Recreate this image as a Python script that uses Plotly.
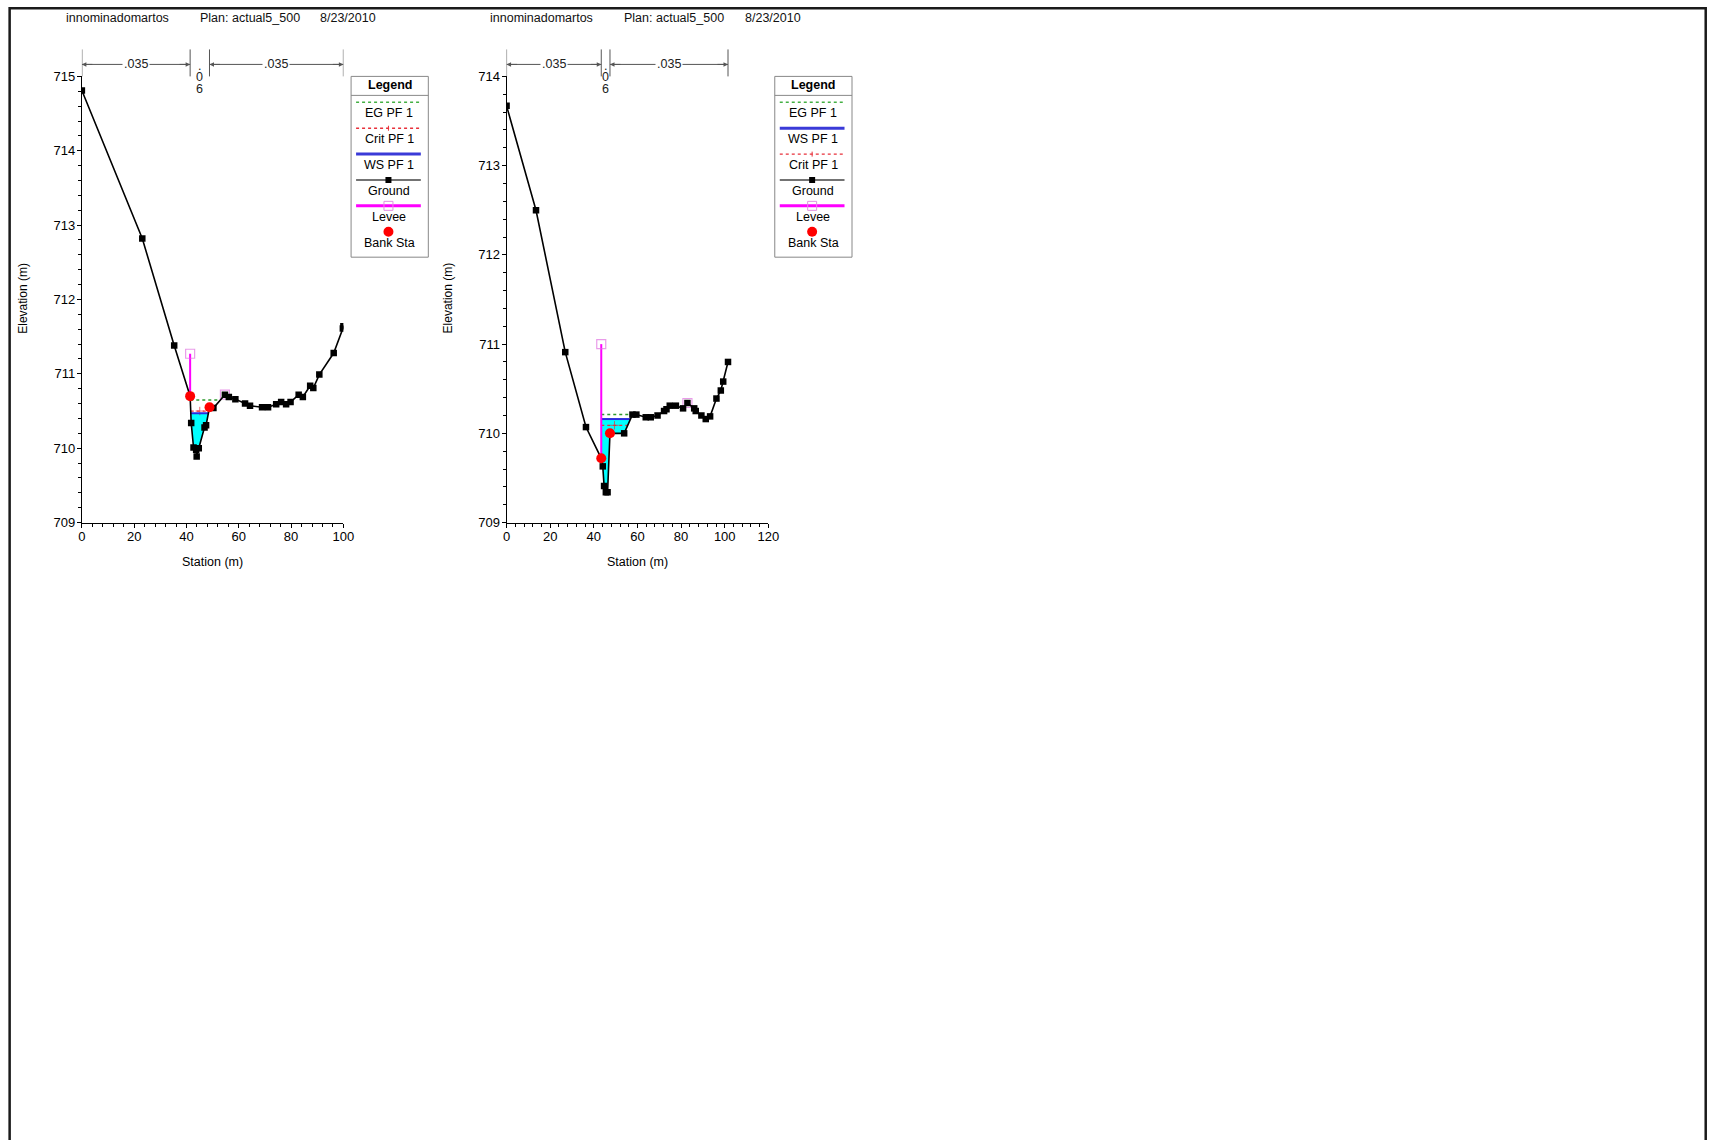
import numpy as np
import plotly.graph_objects as go

W, H = 1718, 1140
# measured rendering calibration (target pixel -> page pixel)
SX, SY = 0.992, 0.988
DX, DY = 4.4, 6.6
FONT = "Liberation Sans, Arial, sans-serif"

# ---------------- data: left cross section ----------------
L_sta = [0, 23.1, 35.3, 41.4, 41.8, 42.7, 43.7, 43.9, 44.7, 46.9, 47.5, 48.8, 50.3, 54.7,
         56.2, 58.7, 62.4, 64.3, 68.9, 71.2, 74.3, 76.2, 78.1, 79.8, 82.9, 84.5, 87.3,
         88.5, 90.8, 96.3, 99.8, 100.0]
L_elev = [714.81, 712.82, 711.38, 710.70, 710.34, 710.01, 709.98, 709.89, 710.00, 710.28,
          710.31, 710.55, 710.54, 710.72, 710.69, 710.66, 710.60, 710.57, 710.55, 710.55,
          710.59, 710.62, 710.59, 710.62, 710.72, 710.69, 710.84, 710.81, 710.99, 711.28,
          711.61, 711.64]
L_levee_sta = [41.4, 54.7]
L_levee_elev = [711.27, 710.72]
L_bank_sta = [41.4, 48.8]
L_ws, L_eg, L_crit = 710.47, 710.65, 710.50
L_n_vals = [".035", ".06", ".035"]
L_n_breaks = [0, 41.4, 48.8, 100.0]
L_xrange = [0, 100]
L_yrange = [709, 715]
L_legend = ["EG PF 1", "Crit PF 1", "WS PF 1", "Ground", "Levee", "Bank Sta"]

# ---------------- data: right cross section ----------------
R_sta = [0, 13.5, 26.9, 36.4, 43.4, 44.1, 44.7, 45.5, 46.3, 47.4, 53.9, 57.7, 59.5, 63.8,
         66.1, 69.2, 72.2, 73.3, 74.8, 77.6, 80.9, 82.9, 86.0, 86.7, 89.3, 91.3, 93.3,
         96.2, 98.2, 99.3, 101.5]
R_elev = [713.67, 712.50, 710.91, 710.07, 709.72, 709.63, 709.41, 709.34, 709.34, 710.00,
          710.00, 710.21, 710.21, 710.18, 710.18, 710.20, 710.25, 710.27, 710.31, 710.31,
          710.28, 710.34, 710.28, 710.25, 710.20, 710.16, 710.19, 710.39, 710.48, 710.58,
          710.80]
R_levee_sta = [43.4, 82.9]
R_levee_elev = [711.00, 710.34]
R_bank_sta = [43.4, 47.4]
R_ws, R_eg, R_crit = 710.16, 710.21, 710.09
R_n_vals = [".035", ".06", ".035"]
R_n_breaks = [0, 43.4, 47.4, 101.5]
R_xrange = [0, 120]
R_yrange = [709, 714]
R_legend = ["EG PF 1", "WS PF 1", "Crit PF 1", "Ground", "Levee", "Bank Sta"]

HEADER = ["innominadomartos", "Plan: actual5_500", "8/23/2010"]

C_EG = "#2e9a2e"
C_CRIT = "#e8303a"
C_WS = "#2a2ae0"
C_GROUND = "#000000"
C_LEVEE = "#ff00ff"
C_BANK = "#ff0000"
C_WATER = "#00ffff"


def ex(t):
    return t / SX - DX


def ey(t):
    return t / SY - DY


def PX(px):
    return ex(px) / W


def PY(py):
    return 1 - ey(py) / H


def crossing(x0, y0, x1, y1, lev):
    return x0 + (lev - y0) * (x1 - x0) / (y1 - y0)


def extent(sta, elev, lev, lim):
    i0 = int(np.argmin(elev))
    j = i0
    while True:
        xa, ya = sta[j - 1], elev[j - 1]
        if ya >= lev:
            xl = crossing(xa, ya, sta[j], elev[j], lev)
            break
        if xa <= lim:
            xl = lim
            break
        j -= 1
    xl = max(xl, lim)
    k = i0
    while True:
        xb, yb = sta[k + 1], elev[k + 1]
        if yb >= lev:
            xr = crossing(sta[k], elev[k], xb, yb, lev)
            break
        k += 1
    return xl, xr


def txt(x, y, text, size=12.5, color="black", xref="paper", **kw):
    d = dict(x=x, y=y, xref=xref, yref="paper", text=text, showarrow=False,
             xanchor=kw.pop("xanchor", "center"), yanchor=kw.pop("yanchor", "middle"),
             font=dict(family=FONT, size=size, color=color))
    d.update(kw)
    return d


fig = go.Figure()
shapes = []
annos = []

PANELS = [
    dict(sta=L_sta, elev=L_elev, lev_sta=L_levee_sta, lev_elev=L_levee_elev, bank=L_bank_sta,
         ws=L_ws, eg=L_eg, crit=L_crit, nv=L_n_vals, nb=L_n_breaks, xr=L_xrange, yr=L_yrange,
         legend=L_legend, x0=82.3, x1=344.0, leg_x=351.7, head_x=[64, 199, 319],
         ytitle_x=24, xtitle_x=213),
    dict(sta=R_sta, elev=R_elev, lev_sta=R_levee_sta, lev_elev=R_levee_elev, bank=R_bank_sta,
         ws=R_ws, eg=R_eg, crit=R_crit, nv=R_n_vals, nb=R_n_breaks, xr=R_xrange, yr=R_yrange,
         legend=R_legend, x0=507.3, x1=769.3, leg_x=775.7, head_x=[489, 623, 744],
         ytitle_x=449, xtitle_x=638),
]
TOP, BOT = 76.0, 522.7

for p_i, P in enumerate(PANELS):
    xa = "x" if p_i == 0 else "x2"
    ya = "y" if p_i == 0 else "y2"
    sta = np.array(P["sta"], float)
    elev = np.array(P["elev"], float)
    lim = P["lev_sta"][0]

    xl, xr = extent(sta, elev, P["ws"], lim)
    inner = (sta > xl) & (sta < xr)
    fx = [xl, xl] + list(sta[inner]) + [xr, xl]
    fy = [P["ws"], float(np.interp(xl, sta, elev))] + list(elev[inner]) + [P["ws"], P["ws"]]
    fig.add_trace(go.Scatter(x=fx, y=fy, xaxis=xa, yaxis=ya, mode="lines", fill="toself",
                             fillcolor=C_WATER, line=dict(width=0), hoverinfo="skip",
                             showlegend=False))

    el, er = extent(sta, elev, P["eg"], lim)
    fig.add_trace(go.Scatter(x=[el, er], y=[P["eg"], P["eg"]], xaxis=xa, yaxis=ya, mode="lines",
                             line=dict(color=C_EG, width=1.5, dash="dot"), showlegend=False))
    cl, cr = extent(sta, elev, P["crit"], lim)
    fig.add_trace(go.Scatter(x=[cl, (cl + cr) / 2, cr], y=[P["crit"]] * 3, xaxis=xa, yaxis=ya,
                             mode="lines+markers",
                             line=dict(color=C_CRIT, width=1.3, dash="dot"),
                             marker=dict(symbol="cross-thin", size=[0, 6, 0],
                                         line=dict(color=C_CRIT, width=1)),
                             showlegend=False))
    fig.add_trace(go.Scatter(x=[xl, xr], y=[P["ws"], P["ws"]], xaxis=xa, yaxis=ya, mode="lines",
                             line=dict(color=C_WS, width=2), showlegend=False))

    for s, e in zip(P["lev_sta"], P["lev_elev"]):
        g = float(np.interp(s, sta, elev))
        fig.add_trace(go.Scatter(x=[s, s], y=[e, g], xaxis=xa, yaxis=ya, mode="lines+markers",
                                 line=dict(color=C_LEVEE, width=2),
                                 marker=dict(symbol="square-open", size=[9, 0], color="#e070e0",
                                             line=dict(width=1.2, color="#e070e0")),
                                 showlegend=False))

    fig.add_trace(go.Scatter(x=sta, y=elev, xaxis=xa, yaxis=ya, mode="lines+markers",
                             line=dict(color=C_GROUND, width=1.6),
                             marker=dict(symbol="square", size=6.5, color=C_GROUND),
                             showlegend=False))

    bs = np.array(P["bank"], float)
    fig.add_trace(go.Scatter(x=bs, y=np.interp(bs, sta, elev), xaxis=xa, yaxis=ya, mode="markers",
                             marker=dict(symbol="circle", size=10, color=C_BANK),
                             showlegend=False))

    dom_x = [PX(P["x0"]), PX(P["x1"])]
    dom_y = [PY(BOT), PY(TOP)]
    axis_common = dict(showline=True, linecolor="black", linewidth=1, ticks="outside",
                       ticklen=4, tickcolor="black", showgrid=False, zeroline=False,
                       tickfont=dict(family=FONT, size=13, color="black"), mirror=False)
    xkey = "xaxis" if p_i == 0 else "xaxis2"
    ykey = "yaxis" if p_i == 0 else "yaxis2"
    fig.update_layout(**{
        xkey: dict(domain=dom_x, range=P["xr"], dtick=20, anchor=ya, ticklabelstandoff=-2,
                   minor=dict(dtick=4, ticks="outside", ticklen=3, tickcolor="black"),
                   **axis_common),
        ykey: dict(domain=dom_y, range=P["yr"], dtick=1, anchor=xa, ticklabelstandoff=-1,
                   minor=dict(dtick=0.2, ticks="outside", ticklen=3, tickcolor="black"),
                   **axis_common),
    })

    annos.append(txt(PX(P["ytitle_x"]), PY(298), "Elevation (m)", size=12, textangle=-90))
    annos.append(txt(PX(P["xtitle_x"]), PY(562.5), "Station (m)", size=12.5))

    for hx, ht in zip(P["head_x"], HEADER):
        annos.append(txt(PX(hx), PY(17.7), ht, size=12.5, color="#111", xanchor="left"))

    pxm = (P["x1"] - P["x0"]) / (P["xr"][1] - P["xr"][0])
    nb = P["nb"]
    BC = "#555555"
    for b in nb:
        shapes.append(dict(type="line", xref=xa, yref="paper", x0=b, x1=b, y0=PY(76), y1=PY(49),
                           line=dict(color=BC, width=1)))
    for k in range(3):
        a, b = nb[k], nb[k + 1]
        wpx = (b - a) * pxm
        mid = (a + b) / 2
        if wpx > 40:
            shapes.append(dict(type="line", xref=xa, yref="paper", x0=a, x1=b, y0=PY(64), y1=PY(64),
                               line=dict(color=BC, width=1)))
            for end, off in ((a, 12), (b, -12)):
                annos.append(dict(x=end, y=PY(64), xref=xa, yref="paper", ax=off, ay=0,
                                  axref="pixel", ayref="pixel", text="", showarrow=True,
                                  arrowhead=2, arrowsize=0.9, arrowwidth=1, arrowcolor=BC))
            annos.append(txt(mid, PY(64), P["nv"][k], size=12.5, color="#222", xref=xa,
                             bgcolor="white", borderpad=1))
        else:
            chars = list(P["nv"][k])
            ys = [66, 77, 89]
            for c, yy in zip(chars, ys):
                annos.append(txt(mid, PY(yy), c, size=12.5, color="#222", xref=xa))

    lx0 = P["leg_x"]
    lx1 = lx0 + 77.3
    shapes.append(dict(type="rect", xref="paper", yref="paper", x0=PX(lx0), x1=PX(lx1),
                       y0=PY(76), y1=PY(257), line=dict(color="#888", width=1),
                       fillcolor="white"))
    shapes.append(dict(type="line", xref="paper", yref="paper", x0=PX(lx0), x1=PX(lx1),
                       y0=PY(95), y1=PY(95), line=dict(color="#888", width=1)))
    annos.append(txt(PX((lx0 + lx1) / 2), PY(84.5), "<b>Legend</b>", size=12.5))
    sx0, sx1 = lx0 + 5, lx1 - 7.5
    cx = (sx0 + sx1) / 2
    for r, name in enumerate(P["legend"]):
        ly = 102 + r * 25.9
        ty = ly + 11
        if name == "EG PF 1":
            shapes.append(dict(type="line", xref="paper", yref="paper", x0=PX(sx0), x1=PX(sx1),
                               y0=PY(ly), y1=PY(ly), line=dict(color="#44b044", width=1.5, dash="dot")))
        elif name == "Crit PF 1":
            shapes.append(dict(type="line", xref="paper", yref="paper", x0=PX(sx0), x1=PX(sx1),
                               y0=PY(ly), y1=PY(ly), line=dict(color=C_CRIT, width=1.3, dash="dot")))
            shapes.append(dict(type="line", xref="paper", yref="paper", x0=PX(cx), x1=PX(cx),
                               y0=PY(ly - 2.5), y1=PY(ly + 2.5), line=dict(color=C_CRIT, width=1)))
        elif name == "WS PF 1":
            shapes.append(dict(type="line", xref="paper", yref="paper", x0=PX(sx0), x1=PX(sx1),
                               y0=PY(ly), y1=PY(ly), line=dict(color="#3a3ad8", width=3)))
        elif name == "Ground":
            shapes.append(dict(type="line", xref="paper", yref="paper", x0=PX(sx0), x1=PX(sx1),
                               y0=PY(ly), y1=PY(ly), line=dict(color="#444", width=1.5)))
            shapes.append(dict(type="rect", xref="paper", yref="paper", x0=PX(cx - 3), x1=PX(cx + 3),
                               y0=PY(ly - 3), y1=PY(ly + 3), line=dict(width=0), fillcolor="black"))
        elif name == "Levee":
            shapes.append(dict(type="line", xref="paper", yref="paper", x0=PX(sx0), x1=PX(sx1),
                               y0=PY(ly), y1=PY(ly), line=dict(color=C_LEVEE, width=3)))
            shapes.append(dict(type="rect", xref="paper", yref="paper", x0=PX(cx - 4.5), x1=PX(cx + 4.5),
                               y0=PY(ly - 4.5), y1=PY(ly + 4.5),
                               line=dict(color="#e090e0", width=1), fillcolor="rgba(0,0,0,0)"))
        elif name == "Bank Sta":
            shapes.append(dict(type="circle", xref="paper", yref="paper", x0=PX(cx - 5), x1=PX(cx + 5),
                               y0=PY(ly - 5), y1=PY(ly + 5), line=dict(width=0), fillcolor=C_BANK))
        annos.append(txt(PX(cx + 1), PY(ty), name, size=12.5))

# page border (kept inside the drawable page)
bx0 = max(ex(10), 1.3) / W
bx1 = min(ex(1710), W - 1.3) / W
by1 = 1 - max(ey(5.5), 1.3) / H
shapes.append(dict(type="rect", xref="paper", yref="paper", x0=bx0, x1=bx1,
                   y0=-0.05, y1=by1, line=dict(color="#1a1a1a", width=2.5),
                   fillcolor="rgba(0,0,0,0)", layer="below"))

fig.update_layout(width=W, height=H, autosize=False, margin=dict(l=0, r=0, t=0, b=0, pad=0),
                  paper_bgcolor="white", plot_bgcolor="white", showlegend=False,
                  shapes=shapes, annotations=annos, font=dict(family=FONT, color="black"))

fig.write_html("out.html", config={"displayModeBar": False, "responsive": False},
               post_script="document.body.style.margin='0';document.documentElement.style.overflow='hidden';document.body.style.overflow='hidden';")
